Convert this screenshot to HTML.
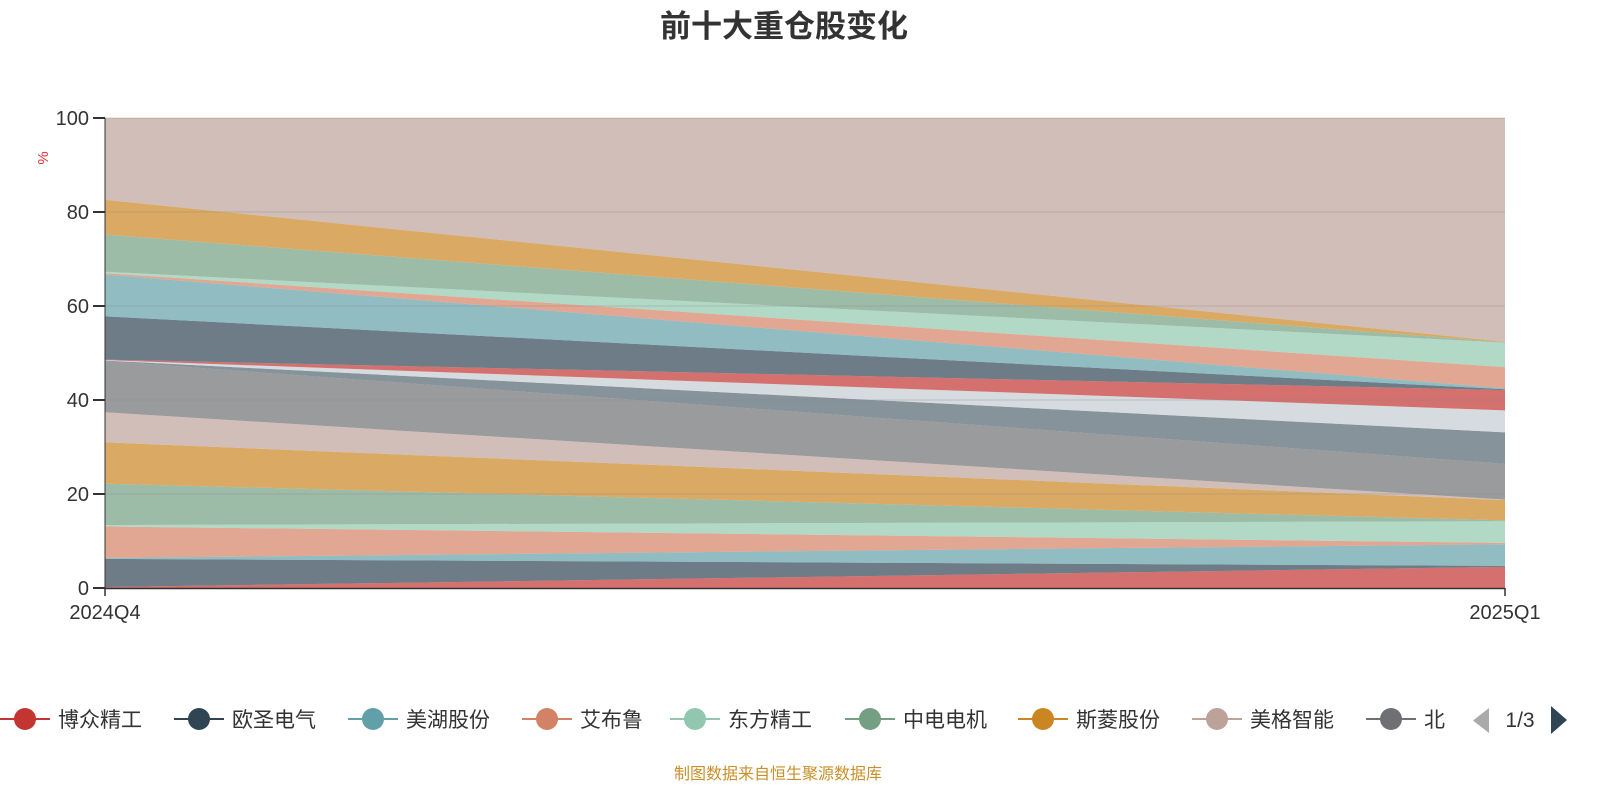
<!DOCTYPE html>
<html><head><meta charset="utf-8">
<style>
body{margin:0;background:#fff;}
svg{display:block;font-family:"Liberation Sans","Noto Sans CJK SC",sans-serif;}
</style></head>
<body>
<svg id="chart" width="1600" height="800">
<text x="784" y="37" text-anchor="middle" font-size="31" font-weight="bold" fill="#333">前十大重仓股变化</text>
<text x="0" y="0" transform="translate(48,158) rotate(-90)" text-anchor="middle" font-size="15" fill="#e03030">%</text>
<g id="areas"></g>
<g id="grid"></g>
<g id="axes"></g>
<g id="legend"></g>
<text x="778" y="779" text-anchor="middle" font-size="16" fill="#c8902a">制图数据来自恒生聚源数据库</text>
</svg>
<script>
const categories = ["2024Q4","2025Q1"];
const seriesNames = ["博众精工","欧圣电气","美湖股份","艾布鲁","东方精工","中电电机","斯菱股份","美格智能","北特科技","汇川技术","恒立液压","三花智控","拓普集团","双环传动","五洲新春","鸣志电器","兆威机电","贝斯特","其他"];
const s1=[0.2,4.5], s2=[6.0,0.2], s3=[0.2,4.6], s4=[6.7,0.3], s5=[0.3,4.6], s6=[8.8,0.2], s7=[8.8,4.3], s8=[6.4,0.1], s9=[10.9,7.6], s10=[0.1,6.7], s11=[0.1,4.7], s12=[0.1,4.3], s13=[9.2,0.2], s14=[8.9,0.2], s15=[0.3,4.5], s16=[0.3,5.2], s17=[7.9,0.1], s18=[7.4,0.1], s19=[17.6,47.8];
const seriesValues=[s1,s2,s3,s4,s5,s6,s7,s8,s9,s10,s11,s12,s13,s14,s15,s16,s17,s18,s19];
const yTicks=[0,20,40,60,80,100];
const legendNames=["博众精工","欧圣电气","美湖股份","艾布鲁","东方精工","中电电机","斯菱股份","美格智能","北特科技"];
const colors=['#c23531','#2f4554','#61a0a8','#d48265','#91c7ae','#749f83','#ca8622','#bda29a','#6e7074','#546570','#c4ccd3'];
const NS="http://www.w3.org/2000/svg";
const X0=105,X1=1505,Y0=588,Y1=118;
const xs=i=>X0+(X1-X0)*i/(categories.length-1);
const ys=v=>Y0-(Y0-Y1)*v/100;
function mk(tag,attrs,parent){const e=document.createElementNS(NS,tag);for(const k in attrs)e.setAttribute(k,attrs[k]);parent.appendChild(e);return e;}
const areas=document.getElementById('areas');
let base=categories.map(()=>0);
seriesValues.forEach((vals,si)=>{
  const top=base.map((b,i)=>b+vals[i]);
  let d="";
  top.forEach((t,i)=>{d+=(i?"L":"M")+xs(i)+","+ys(Math.min(t,100));});
  for(let i=base.length-1;i>=0;i--)d+="L"+xs(i)+","+ys(base[i]);
  d+="Z";
  const p=mk('path',{d:d,fill:colors[si%colors.length],'fill-opacity':0.7,stroke:'none'},areas);
  
  
  base=top;
});
const grid=document.getElementById('grid');
yTicks.forEach(t=>{
  if(t>0){const l=mk('line',{x1:X0,x2:X1,y1:ys(t),y2:ys(t),stroke:'#888','stroke-opacity':0.35,'stroke-width':1},grid);
  
  }
});
const axes=document.getElementById('axes');
mk('line',{x1:X0,x2:X0,y1:Y1,y2:Y0,stroke:'#333','stroke-width':1},axes);
mk('line',{x1:X0,x2:X1,y1:Y0+0.5,y2:Y0+0.5,stroke:'#333','stroke-width':1.5},axes);
yTicks.forEach(t=>{
  mk('line',{x1:X0-12,x2:X0,y1:ys(t),y2:ys(t),stroke:'#333','stroke-width':2},axes);
  const tx=mk('text',{x:X0-16,y:ys(t)+7,'text-anchor':'end','font-size':20,fill:'#333'},axes);
  tx.textContent=t;
  
  
});
categories.forEach((c,i)=>{
  mk('line',{x1:xs(i),x2:xs(i),y1:Y0,y2:Y0+8,stroke:'#333','stroke-width':1.5},axes);
  const tx=mk('text',{x:xs(i),y:619,'text-anchor':'middle','font-size':20,fill:'#333'},axes);
  tx.textContent=c;
  
  
});
const legend=document.getElementById('legend');
const lx=[0,174,348,522,670,845,1018,1192,1366];
const clip=mk('clipPath',{id:'lc'},legend);mk('rect',{x:0,y:690,width:1446,height:60},clip);
const lg=mk('g',{'clip-path':'url(#lc)'},legend);
legendNames.forEach((n,i)=>{
  const g=mk('g',{},lg);
  
  
  const c=colors[i%colors.length];
  mk('line',{x1:lx[i],x2:lx[i]+50,y1:719,y2:719,stroke:c,'stroke-width':2},g);
  mk('circle',{cx:lx[i]+25,cy:719,r:11,fill:c},g);
  const t=mk('text',{x:lx[i]+58,y:727,'font-size':21,fill:'#333'},g);t.textContent=n;
});
const pl=mk('path',{d:'M1489,708 L1489,733 L1473,720.5 Z',fill:'#aaa'},legend);


const pt=mk('text',{x:1520,y:727,'text-anchor':'middle','font-size':21,fill:'#333'},legend);pt.textContent="1/3";


const pn=mk('path',{d:'M1551,706 L1551,734 L1567,720 Z',fill:'#2f4554'},legend);


</script>
</body></html>
